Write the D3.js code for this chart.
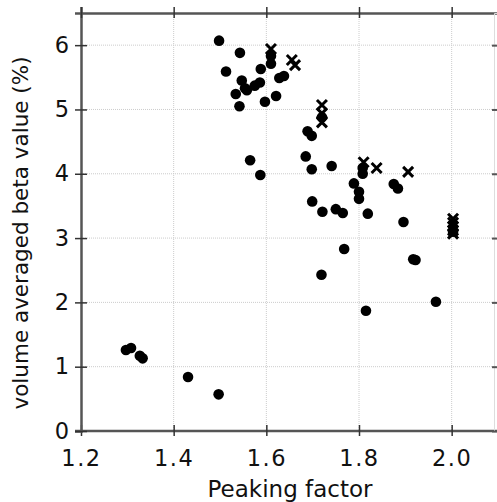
<!DOCTYPE html>
<html>
<head>
<meta charset="utf-8">
<script src="https://cdn.jsdelivr.net/npm/d3@7"></script>
<style>
body { margin: 0; background: #fff; }
text { font-family: "DejaVu Sans", sans-serif; fill: #111; }
</style>
</head>
<body>
<div id="chart"></div>
<script>
// circles
var dotX = [1.498, 1.543, 1.513, 1.547, 1.554, 1.558, 1.534, 1.542, 1.575, 1.586,
    1.588, 1.597, 1.621, 1.628, 1.638, 1.61, 1.61, 1.565, 1.587, 1.72,
    1.689, 1.698, 1.685, 1.698, 1.741, 1.808, 1.808, 1.789, 1.80, 1.80,
    1.875, 1.884, 1.699, 1.721, 1.75, 1.765, 1.819, 1.896, 2.003, 1.768,
    1.719, 1.917, 1.922, 1.966, 1.815, 1.297, 1.308, 1.327, 1.333, 1.431, 1.497];
var dotY = [6.07, 5.88, 5.59, 5.45, 5.33, 5.30, 5.24, 5.05, 5.37, 5.42,
    5.63, 5.12, 5.21, 5.49, 5.52, 5.83, 5.71, 4.21, 3.98, 4.88,
    4.66, 4.59, 4.27, 4.07, 4.12, 4.09, 4.00, 3.85, 3.72, 3.61,
    3.84, 3.77, 3.57, 3.41, 3.45, 3.39, 3.38, 3.25, 3.10, 2.83,
    2.43, 2.67, 2.66, 2.01, 1.87, 1.26, 1.29, 1.17, 1.13, 0.84, 0.57];
// crosses
var crossX = [1.61, 1.655, 1.662, 1.72, 1.72, 1.72, 1.81, 1.838, 1.906, 2.003, 2.003, 2.003, 2.003, 2.003];
var crossY = [5.94, 5.77, 5.69, 5.07, 4.94, 4.80, 4.18, 4.09, 4.03, 3.30, 3.24, 3.18, 3.12, 3.07];
var xTicks = [1.2, 1.4, 1.6, 1.8, 2.0];
var yTicks = [0, 1, 2, 3, 4, 5, 6];

var width = 497, height = 502;
var x = d3.scaleLinear().domain([1.2, 2.1]).range([81, 498]);
var y = d3.scaleLinear().domain([0, 6.5]).range([431, 13]);

var svg = d3.select('#chart').append('svg')
    .attr('width', width)
    .attr('height', height);

// grid
svg.append('g').selectAll('line').data(xTicks.slice(1)).enter().append('line')
    .attr('x1', function (d) { return x(d); })
    .attr('x2', function (d) { return x(d); })
    .attr('y1', y(6.5)).attr('y2', y(0))
    .attr('stroke', '#ccc').attr('stroke-width', 1).attr('stroke-dasharray', '1,1');
svg.append('g').selectAll('line').data(yTicks.slice(1)).enter().append('line')
    .attr('x1', x(1.2)).attr('x2', x(2.1))
    .attr('y1', function (d) { return y(d); })
    .attr('y2', function (d) { return y(d); })
    .attr('stroke', '#ccc').attr('stroke-width', 1).attr('stroke-dasharray', '1,1');

// axes
var xAxis = svg.append('g')
    .attr('transform', 'translate(0,' + y(0) + ')')
    .call(d3.axisBottom(x).tickValues(xTicks).tickFormat(d3.format('.1f')).tickSize(6).tickPadding(13));
var yAxis = svg.append('g')
    .attr('transform', 'translate(' + x(1.2) + ',0)')
    .call(d3.axisLeft(y).tickValues(yTicks).tickFormat(d3.format('d')).tickSize(6).tickPadding(6));
var xTop = svg.append('g')
    .attr('transform', 'translate(0,' + y(6.5) + ')')
    .call(d3.axisTop(x).tickValues(xTicks).tickFormat('').tickSize(6));
var yRight = svg.append('g')
    .attr('transform', 'translate(' + 494 + ',0)')
    .call(d3.axisRight(y).tickValues(yTicks).tickFormat('').tickSize(4));

[xAxis, yAxis, xTop].forEach(function (g) {
    g.select('.domain').attr('stroke', '#555').attr('stroke-width', 2.5);
    g.selectAll('.tick line').attr('stroke', '#333').attr('stroke-width', 1.5);
    g.selectAll('.tick text').style('font-size', '22.5px').attr('fill', '#111');
});
xAxis.selectAll('.tick text').style('letter-spacing', '1.5px');
yRight.select('.domain').attr('stroke', '#ddd').attr('stroke-width', 1);
yRight.selectAll('.tick line').attr('stroke', '#555').attr('stroke-width', 2).attr('x1', -2);
// ticks crossing the axis line
xAxis.selectAll('.tick line').attr('y1', -6).attr('y2', 5);
xTop.selectAll('.tick line').attr('y1', 5).attr('y2', -6);
yAxis.selectAll('.tick line').attr('x1', 6).attr('x2', -6);
xAxis.select('.domain').attr('d', 'M' + (x(1.2) - 6) + ',0H' + x(2.1));

// points
svg.append('g').selectAll('circle').data(dotX).enter().append('circle')
    .attr('cx', function (d) { return x(d); })
    .attr('cy', function (d, i) { return y(dotY[i]); })
    .attr('r', 5.3)
    .attr('fill', '#000');
svg.append('g').selectAll('path').data(crossX).enter().append('path')
    .attr('transform', function (d, i) { return 'translate(' + x(d) + ',' + y(crossY[i]) + ')'; })
    .attr('d', 'M-5,-5L5,5M-5,5L5,-5')
    .attr('stroke', '#000')
    .attr('stroke-width', 3)
    .attr('fill', 'none');

// titles
svg.append('text')
    .attr('x', 290)
    .attr('y', 497)
    .attr('text-anchor', 'middle')
    .style('font-size', '23px')
    .text('Peaking factor');
svg.append('text')
    .attr('transform', 'translate(28,' + 233 + ') rotate(-90)')
    .attr('text-anchor', 'middle')
    .style('font-size', '21.5px')
    .text('volume averaged beta value (%)');
</script>
</body>
</html>
